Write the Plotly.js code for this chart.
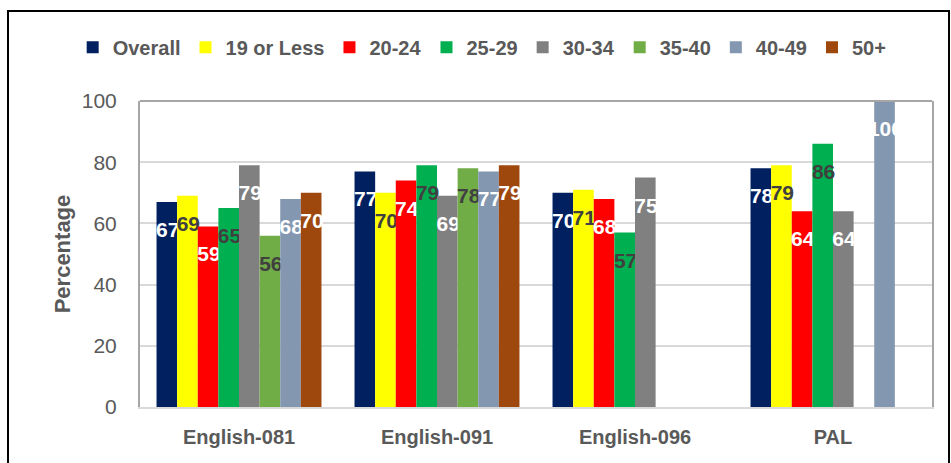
<!DOCTYPE html>
<html>
<head>
<meta charset="utf-8">
<script src="https://cdn.plot.ly/plotly-3.0.1.min.js"></script>
<style>
  html, body { margin: 0; padding: 0; background: #fff; }
  #chart { width: 951px; height: 463px; }
  #frame { position: absolute; left: 7px; top: 10px; width: 943px; height: 470px;
           border: 2px solid #000; pointer-events: none; box-sizing: border-box; }
</style>
</head>
<body>
<div id="chart"></div>
<div id="frame"></div>
<script>
const categories = ["English-081", "English-091", "English-096", "PAL"];
const seriesNames = ["Overall", "19 or Less", "20-24", "25-29", "30-34", "35-40", "40-49", "50+"];
const overall   = [67, 77, 70, 78];
const age19     = [69, 70, 71, 79];
const age20_24  = [59, 74, 68, 64];
const age25_29  = [65, 79, 57, 86];
const age30_34  = [79, 69, 75, 64];
const age35_40  = [56, 78, null, null];
const age40_49  = [68, 77, null, 100];
const age50plus = [70, 79, null, null];
const yTicks = [0, 20, 40, 60, 80, 100];

const seriesValues = [overall, age19, age20_24, age25_29, age30_34, age35_40, age40_49, age50plus];
const colors = ["#002060", "#FFFF00", "#FF0000", "#00B050", "#808080", "#70AD47", "#8497B0", "#9E480E"];
const labelColors = ["#FFFFFF", "#404040", "#FFFFFF", "#404040", "#FFFFFF", "#404040", "#FFFFFF", "#FFFFFF"];
const FONT = '"Liberation Sans", Arial, sans-serif';

// Label sits a little below the bar end, as in the reference (hair space anchors the top)
const labelOf = v => v == null ? '' :
  '\u200a<span style="baseline-shift:-13px">' + v + '</span>';

const traces = seriesNames.map((name, i) => ({
  type: 'bar',
  name: name,
  x: categories,
  y: seriesValues[i],
  text: seriesValues[i].map(labelOf),
  textposition: 'inside',
  insidetextanchor: 'end',
  constraintext: 'none',
  textangle: 0,
  cliponaxis: false,
  textfont: { family: FONT, size: 21, color: labelColors[i], weight: 'bold' },
  marker: { color: colors[i], line: { width: 0 } },
  hoverinfo: 'x+y+name'
}));

const layout = {
  width: 951, height: 463,
  margin: { l: 140, r: 19, t: 101, b: 56 },
  paper_bgcolor: '#ffffff',
  plot_bgcolor: '#ffffff',
  barmode: 'group',
  bargap: 0.167,
  bargroupgap: 0,
  showlegend: true,
  legend: {
    orientation: 'h',
    x: -0.085, xanchor: 'left',
    y: 1.176, yanchor: 'middle',
    font: { family: FONT, size: 20, color: '#595959', weight: 'bold' },
    traceorder: 'normal',
    itemclick: false
  },
  xaxis: {
    type: 'category',
    tickfont: { family: FONT, size: 20, color: '#595959', weight: 'bold' },
    showline: true, linecolor: '#d9d9d9', linewidth: 2,
    showgrid: false, ticks: '', zeroline: false,
    ticklabelstandoff: 11
  },
  yaxis: {
    range: [0, 100],
    tickvals: yTicks,
    ticktext: yTicks.map(String),
    tickfont: { family: FONT, size: 21, color: '#595959' },
    showgrid: true, gridcolor: '#d9d9d9', gridwidth: 2,
    showline: true, linecolor: '#a6a6a6', linewidth: 2, mirror: true,
    zeroline: false, ticks: '',
    ticklabelstandoff: 17,
    title: { text: 'Percentage', font: { family: FONT, size: 22, color: '#595959', weight: 'bold' }, standoff: 5 }
  },
  shapes: [
    { type: 'line', xref: 'paper', yref: 'paper', x0: 0, x1: 1, y0: 1, y1: 1,
      line: { color: '#a6a6a6', width: 2 } }
  ]
};

Plotly.newPlot('chart', traces, layout, { displayModeBar: false, staticPlot: true });
</script>
</body>
</html>
